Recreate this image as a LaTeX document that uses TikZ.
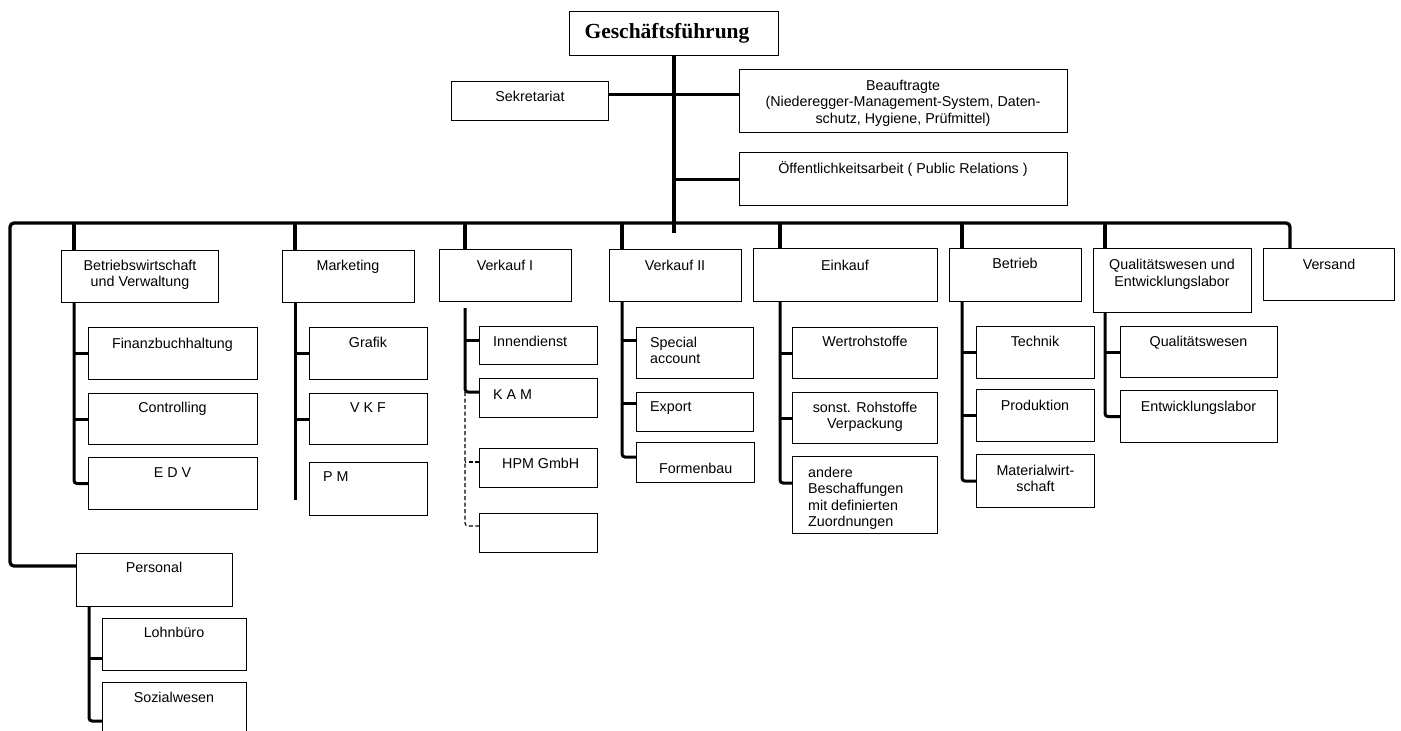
\documentclass[tikz,border=0pt]{standalone}
\usepackage{fontspec}
\setmainfont{Liberation Sans}
\newfontfamily\serifbold{Liberation Serif}
\usetikzlibrary{calc}
\newcommand{\orgfont}{\fontsize{14.3}{16.5}\selectfont}
\newcommand{\headfont}{\serifbold\bfseries\fontsize{21.5}{24}\selectfont}

\begin{document}
\begin{tikzpicture}[x=1pt,y=1pt,yscale=-1,xscale=1,
	box/.style={draw, line width=1.1, anchor=north west, inner sep=0pt},
	txt/.style={anchor=base, inner sep=0pt, align=center, font=\orgfont},
	ltxt/.style={anchor=base west, inner sep=0pt, align=left, font=\orgfont},
	bus/.style={line width=3.3},
	link/.style={line width=3, rounded corners=3},
	dlink/.style={line width=1.1, dash pattern=on 4pt off 2.5pt, rounded corners=3}]
	\useasboundingbox (0,0) rectangle (1401,731);
	\clip (0,0) rectangle (1401,731);

	% Boxes, top
	\node[box, minimum width=209, minimum height=44] (gf) at (569,11) {};
	\node[box, minimum width=157, minimum height=39] (sekr) at (451,81) {};
	\node[box, minimum width=328, minimum height=63] (bea) at (739,69) {};
	\node[box, minimum width=328, minimum height=53] (oeff) at (739,152) {};
	% Boxes, departments
	\node[box, minimum width=157, minimum height=52] (bw) at (61,250) {};
	\node[box, minimum width=132, minimum height=52] (mkt) at (282,250) {};
	\node[box, minimum width=132, minimum height=52] (vka) at (439,249) {};
	\node[box, minimum width=132, minimum height=52] (vkb) at (609,249) {};
	\node[box, minimum width=184, minimum height=53] (ek) at (753,248) {};
	\node[box, minimum width=132, minimum height=53] (btr) at (949,248) {};
	\node[box, minimum width=158, minimum height=64] (qe) at (1093,248) {};
	\node[box, minimum width=131, minimum height=52] (vers) at (1263,248) {};
	\node[box, minimum width=156, minimum height=53] (pers) at (76,553) {};
	% Boxes, sections
	\node[box, minimum width=169, minimum height=52] (fin) at (88,327) {};
	\node[box, minimum width=169, minimum height=51] (ctrl) at (88,393) {};
	\node[box, minimum width=169, minimum height=52] (edv) at (88,457) {};
	\node[box, minimum width=118, minimum height=52] (graf) at (309,327) {};
	\node[box, minimum width=118, minimum height=51] (vkf) at (309,393) {};
	\node[box, minimum width=118, minimum height=53] (pm) at (309,462) {};
	\node[box, minimum width=118, minimum height=38] (inn) at (479,326) {};
	\node[box, minimum width=118, minimum height=39] (kam) at (479,378) {};
	\node[box, minimum width=118, minimum height=39] (hpm) at (479,448) {};
	\node[box, minimum width=118, minimum height=39] (leer) at (479,513) {};
	\node[box, minimum width=117, minimum height=51] (spec) at (636,327) {};
	\node[box, minimum width=117, minimum height=39] (exp) at (636,392) {};
	\node[box, minimum width=118, minimum height=40] (form) at (636,442) {};
	\node[box, minimum width=145, minimum height=51] (wert) at (792,327) {};
	\node[box, minimum width=145, minimum height=51] (sonst) at (792,392) {};
	\node[box, minimum width=145, minimum height=77] (andb) at (792,456) {};
	\node[box, minimum width=118, minimum height=52] (tech) at (976,326) {};
	\node[box, minimum width=118, minimum height=52] (prod) at (976,389) {};
	\node[box, minimum width=118, minimum height=53] (mat) at (976,454) {};
	\node[box, minimum width=157, minimum height=51] (qw) at (1120,326) {};
	\node[box, minimum width=157, minimum height=52] (entw) at (1120,390) {};
	\node[box, minimum width=144, minimum height=52] (lohn) at (102,618) {};
	\node[box, minimum width=144, minimum height=54] (soz) at (102,682) {};

	% Text Node
	\node[anchor=base, inner sep=0pt, font=\headfont] (gf-t) at (667,38) {Geschäftsführung};
	\node[txt] (sekr-t) at (530,101.5) {Sekretariat};
	\node[txt] (bea-t) at (903,123) {Beauftragte\\(Niederegger-Management-System, Daten-\\schutz, Hygiene, Prüfmittel)};
	\node[txt] (oeff-t) at (903,173) {Öffentlichkeitsarbeit ( Public Relations )};
	% Text Node
	\node[txt] (bw-t) at (140,286.5) {Betriebswirtschaft\\und Verwaltung};
	\node[txt] (mkt-t) at (348,270) {Marketing};
	\node[txt] (vka-t) at (505,270) {Verkauf I};
	\node[txt] (vkb-t) at (675,270) {Verkauf II};
	\node[txt] (ek-t) at (845,270) {Einkauf};
	\node[txt] (btr-t) at (1015,268.5) {Betrieb};
	\node[txt] (qe-t) at (1172,286) {Qualitätswesen und\\Entwicklungslabor};
	\node[txt] (vers-t) at (1329,269.5) {Versand};
	\node[txt] (pers-t) at (154,572.7) {Personal};
	% Text Node
	\node[txt] (fin-t) at (172.5,348) {Finanzbuchhaltung};
	\node[txt] (ctrl-t) at (172.5,412.7) {Controlling};
	\node[txt] (edv-t) at (172.5,477) {E D V};
	\node[txt] (graf-t) at (368,347) {Grafik};
	\node[txt] (vkf-t) at (368,412.5) {V K F};
	\node[ltxt] (pm-t) at (323,481.5) {P M};
	\node[ltxt] (inn-t) at (493,346) {Innendienst};
	\node[ltxt] (kam-t) at (493,399) {K A M};
	\node[ltxt] (hpm-t) at (502,468.3) {HPM GmbH};
	\node[ltxt] (spec-t) at (650,363.8) {Special\\account};
	\node[ltxt] (exp-t) at (650,411.7) {Export};
	\node[ltxt] (form-t) at (659,473.3) {Formenbau};
	\node[txt] (wert-t) at (865,346.7) {Wertrohstoffe};
	\node[txt] (sonst-t) at (865,428.7) {sonst. Rohstoffe\\Verpackung};
	\node[ltxt] (andb-t) at (808,526.5) {andere\\Beschaffungen\\mit definierten\\Zuordnungen};
	\node[txt] (tech-t) at (1035,346) {Technik};
	\node[txt] (prod-t) at (1035,410) {Produktion};
	\node[txt] (mat-t) at (1035.5,491.5) {Materialwirt-\\schaft};
	\node[txt] (qw-t) at (1198.5,346.7) {Qualitätswesen};
	\node[txt] (entw-t) at (1198.5,411.7) {Entwicklungslabor};
	\node[txt] (lohn-t) at (174,637.3) {Lohnbüro};
	\node[txt] (soz-t) at (174,702.3) {Sozialwesen};

	% Bus junctions
	\coordinate (busl) at (10,223);
	\coordinate (busr) at (1290,223);
	\coordinate (bwj) at (74,223);
	\coordinate (mktj) at (295,223);
	\coordinate (vkaj) at (465,223);
	\coordinate (vkbj) at (622,223);
	\coordinate (ekj) at (780,223);
	\coordinate (btrj) at (962,223);
	\coordinate (qej) at (1105,223);

	% Connection
	\draw[bus] (gf.south) -- ($(gf.south |- busl)+(0,10)$);
	\draw[link] ($(sekr.north east)+(0,13)$) -- ($(bea.north west)+(0,25)$);
	\draw[link] (oeff.west) -- (oeff.west -| gf.south);
	\draw[bus, rounded corners=4] ($(pers.north west)+(0,13)$) -| (busl) -- (busr) -- (busr |- vers.north);
	% Connection
	\draw[bus] (bwj) -- (bwj |- bw.north);
	\draw[bus] (mktj) -- (mktj |- mkt.north);
	\draw[bus] (vkaj) -- (vkaj |- vka.north);
	\draw[bus] (vkbj) -- (vkbj |- vkb.north);
	\draw[bus] (ekj) -- (ekj |- ek.north);
	\draw[bus] (btrj) -- (btrj |- btr.north);
	\draw[bus] (qej) -- (qej |- qe.north);
	% Connection
	\draw[link] (bw.south -| bwj) |- (edv.west);
	\draw[link] (fin.west) -- (fin.west -| bwj);
	\draw[link] (ctrl.west) -- (ctrl.west -| bwj);
	% Connection
	\draw[link] (mkt.south -| mktj) -- ($(pm.north west)+(-14,38)$);
	\draw[link] (graf.west) -- (graf.west -| mktj);
	\draw[link] (vkf.west) -- (vkf.west -| mktj);
	% Connection
	\draw[link] ($(vka.south -| vkaj)+(0,6)$) |- ($(kam.north west)+(0,14)$);
	\draw[link] ($(inn.north west)+(0,14)$) -- ++(-14,0);
	\draw[dlink] ($(kam.north west)+(-14,14)$) |- ($(leer.north west)+(0,13)$);
	\draw[dlink] ($(hpm.north west)+(0,14)$) -- ++(-14,0);
	% Connection
	\draw[link] (vkb.south -| vkbj) |- ($(form.north west)+(0,15)$);
	\draw[link] ($(spec.north west)+(0,13)$) -- ++(-14,0);
	\draw[link] ($(exp.north west)+(0,11)$) -- ++(-14,0);
	% Connection
	\draw[link] (ek.south -| ekj) |- ($(andb.north west)+(0,27)$);
	\draw[link] (wert.west) -- (wert.west -| ekj);
	\draw[link] (sonst.west) -- (sonst.west -| ekj);
	% Connection
	\draw[link] (btr.south -| btrj) |- (mat.west);
	\draw[link] (tech.west) -- (tech.west -| btrj);
	\draw[link] (prod.west) -- (prod.west -| btrj);
	% Connection
	\draw[link] (qe.south -| qej) |- (entw.west);
	\draw[link] (qw.west) -- (qw.west -| qej);
	% Connection
	\draw[link] ($(pers.south west)+(13,0)$) |- ($(soz.north west)+(0,39)$);
	\draw[link] ($(lohn.north west)+(0,40)$) -- ++(-13,0);

\end{tikzpicture}
\end{document}
